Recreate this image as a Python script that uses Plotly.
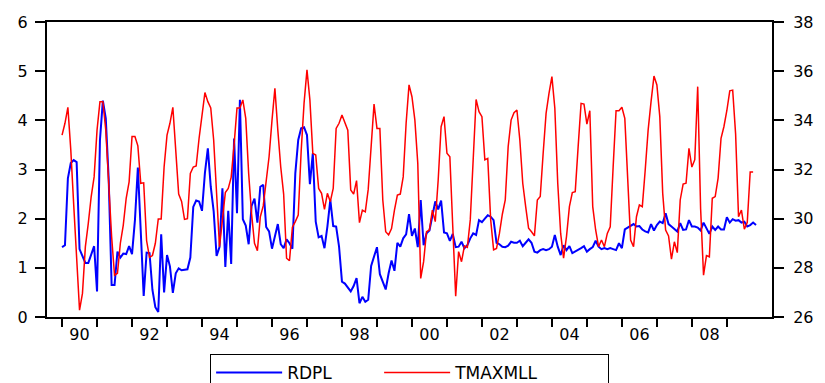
import plotly.graph_objects as go

start_year = 1990

rdpl = [
    1.42, 1.46, 2.82, 3.13, 3.19, 3.15, 1.38, 1.24, 1.10, 1.10, 1.26, 1.44,
    0.52, 3.60, 4.40, 4.04, 2.80, 0.65, 0.65, 1.33, 1.21, 1.29, 1.28, 1.44,
    1.28, 1.97, 3.04, 1.70, 0.43, 1.31, 1.30, 0.55, 0.20, 0.10, 1.68, 0.50,
    1.26, 1.03, 0.49, 0.89, 0.99, 0.95, 0.96, 0.97, 1.21, 2.24, 2.37, 2.35,
    2.16, 2.93, 3.43, 2.65, 2.15, 1.24, 1.42, 2.62, 1.02, 2.16, 1.08, 3.63,
    2.11, 4.42, 1.99, 1.86, 1.48, 2.26, 2.41, 1.92, 2.65, 2.69, 1.83, 1.74,
    1.39, 1.65, 1.89, 1.48, 1.40, 1.58, 1.50, 1.39, 2.92, 3.60, 3.84, 3.86,
    3.70, 2.70, 3.33, 1.94, 1.62, 1.65, 1.40, 1.84, 2.38, 1.85, 1.84, 1.43,
    0.72, 0.68, 0.60, 0.52, 0.63, 0.79, 0.28, 0.41, 0.31, 0.35, 1.04, 1.24,
    1.42, 0.87, 0.72, 0.56, 0.89, 1.15, 0.94, 1.51, 1.43, 1.60, 1.68, 2.09,
    1.65, 1.80, 1.42, 2.38, 1.46, 1.70, 1.76, 2.07, 2.35, 2.19, 2.37, 1.72,
    1.70, 1.55, 1.69, 1.42, 1.43, 1.53, 1.40, 1.46, 1.60, 1.70, 1.67, 1.97,
    1.93, 2.00, 2.07, 2.04, 1.97, 1.51, 1.48, 1.43, 1.42, 1.45, 1.53, 1.51,
    1.51, 1.55, 1.44, 1.51, 1.58, 1.51, 1.33, 1.31, 1.36, 1.38, 1.36, 1.38,
    1.43, 1.67, 1.43, 1.26, 1.46, 1.36, 1.44, 1.30, 1.33, 1.36, 1.40, 1.44,
    1.33, 1.38, 1.42, 1.55, 1.43, 1.38, 1.40, 1.38, 1.40, 1.38, 1.36, 1.50,
    1.40, 1.78, 1.82, 1.85, 1.89, 1.84, 1.85, 1.78, 1.74, 1.72, 1.89, 1.76,
    1.87, 1.94, 1.91, 2.11, 1.89, 1.84, 1.78, 1.74, 1.91, 1.77, 1.78, 1.97,
    1.84, 1.84, 1.82, 1.76, 1.92, 1.80, 1.69, 1.84, 1.77, 1.84, 1.78, 1.78,
    2.03, 1.92, 1.99, 1.96, 1.97, 1.92, 1.94, 1.84, 1.87, 1.92, 1.87,
]

tmaxmll = [
    33.40, 33.88, 34.53, 32.80, 30.56, 28.45, 26.28, 26.96, 28.86, 29.81, 30.90, 31.70,
    33.60, 34.76, 34.76, 33.60, 31.44, 29.27, 27.70, 27.78, 29.00, 29.74, 30.83, 31.50,
    33.34, 33.34, 32.96, 31.44, 31.46, 29.10, 28.43, 28.50, 29.00, 29.99, 29.99, 32.10,
    33.40, 33.88, 34.53, 32.93, 31.00, 30.70, 29.97, 30.00, 31.84, 32.10, 32.14, 33.27,
    34.15, 35.13, 34.76, 34.50, 33.20, 31.03, 28.86, 29.95, 31.06, 31.23, 31.68, 33.00,
    34.50, 34.50, 34.83, 34.08, 31.84, 30.20, 29.00, 28.70, 30.08, 30.52, 31.57, 32.52,
    34.00, 35.30, 33.60, 32.10, 31.00, 28.39, 28.29, 29.65, 29.88, 30.15, 32.73, 34.70,
    36.05, 34.83, 32.66, 32.59, 31.23, 31.03, 30.38, 31.03, 30.69, 31.23, 33.67, 33.88,
    34.22, 33.88, 33.60, 31.17, 31.00, 31.55, 29.84, 30.35, 30.28, 31.19, 33.00, 34.66,
    33.67, 33.67, 30.76, 29.47, 29.34, 29.60, 30.35, 30.96, 31.00, 31.70, 33.88, 35.44,
    34.96, 34.01, 32.25, 27.57, 28.25, 29.47, 29.54, 30.35, 29.88, 31.57, 33.74, 34.15,
    32.66, 32.52, 29.67, 26.85, 28.66, 28.25, 28.89, 28.83, 29.95, 32.39, 34.85, 34.35,
    34.15, 32.39, 32.45, 29.95, 28.73, 28.79, 29.40, 30.18, 30.76, 32.93, 34.01, 34.31,
    34.42, 33.20, 31.44, 30.49, 29.61, 29.47, 29.30, 30.76, 30.90, 32.66, 34.28, 35.10,
    35.78, 34.49, 31.44, 29.40, 28.39, 29.27, 30.49, 31.06, 31.10, 32.93, 34.69, 34.66,
    33.85, 34.39, 30.49, 29.54, 28.86, 29.13, 28.86, 29.40, 29.67, 32.10, 34.39, 34.39,
    34.53, 34.08, 31.84, 29.13, 28.86, 30.08, 30.56, 30.49, 31.98, 33.60, 34.76, 35.80,
    35.44, 34.15, 31.03, 29.54, 29.30, 28.35, 29.06, 28.62, 30.76, 31.41, 31.44, 32.86,
    32.10, 32.40, 35.37, 30.40, 27.70, 28.50, 28.45, 30.83, 30.90, 31.65, 33.27, 33.75,
    34.40, 35.20, 35.23, 33.45, 30.08, 30.35, 29.57, 29.85, 31.90, 31.90,
]

label_years = [1990, 1992, 1994, 1996, 1998, 2000, 2002, 2004, 2006, 2008]
year_labels = ["90", "92", "94", "96", "98", "00", "02", "04", "06", "08"]
tick_years = list(range(1990, 2010))

x_rdpl = [start_year + k / 12 for k in range(len(rdpl))]
x_tmax = [start_year + k / 12 for k in range(len(tmaxmll))]

FONT = "DejaVu Sans"

fig = go.Figure()
fig.add_trace(go.Scatter(
    x=x_rdpl, y=rdpl, name="RDPL", mode="lines",
    line=dict(color="#0000FF", width=2), yaxis="y",
    legendwidth=87,
))
fig.add_trace(go.Scatter(
    x=x_tmax, y=tmaxmll, name="TMAXMLL", mode="lines",
    line=dict(color="#FF0000", width=1.5), yaxis="y2",
    legendwidth=148,
))

fig.update_layout(
    width=825, height=383,
    margin=dict(l=47, r=53, t=22, b=66, autoexpand=False),
    paper_bgcolor="white", plot_bgcolor="white",
    font=dict(family=FONT, size=16, color="black"),
    showlegend=True,
    xaxis=dict(
        range=[1989.57, 2010.29],
        tickmode="array",
        tickvals=[y + 0.5 for y in label_years],
        ticktext=year_labels,
        ticks="",
        ticklabelstandoff=2,
        showgrid=False, zeroline=False,
        showline=True, linecolor="black", linewidth=2, mirror=True,
        minor=dict(tickmode="array", tickvals=tick_years, ticks="outside",
                   ticklen=8, tickwidth=1.5, tickcolor="black", showgrid=False),
        tickfont=dict(family=FONT, size=16),
    ),
    yaxis=dict(
        range=[0, 6], tickmode="linear", tick0=0, dtick=1,
        ticks="outside", ticklen=10, tickwidth=1.5, tickcolor="black",
        showgrid=False, zeroline=False,
        showline=True, linecolor="black", linewidth=2,
        tickfont=dict(family=FONT, size=16),
        ticklabelstandoff=4,
    ),
    yaxis2=dict(
        range=[26, 38], tickmode="linear", tick0=26, dtick=2,
        overlaying="y", side="right",
        ticks="outside", ticklen=10, tickwidth=1.5, tickcolor="black",
        showgrid=False, zeroline=False,
        showline=True, linecolor="black", linewidth=2,
        tickfont=dict(family=FONT, size=16),
        ticklabelstandoff=6,
    ),
    legend=dict(
        orientation="h", x=0.225, y=-0.125, xanchor="left", yanchor="top",
        bordercolor="black", borderwidth=1, bgcolor="white",
        font=dict(family=FONT, size=17), itemwidth=66,
    ),
)

fig.write_html(
    "out.html",
    config={"displayModeBar": False},
    post_script="document.body.style.margin='0';document.body.style.overflow='hidden';",
)
